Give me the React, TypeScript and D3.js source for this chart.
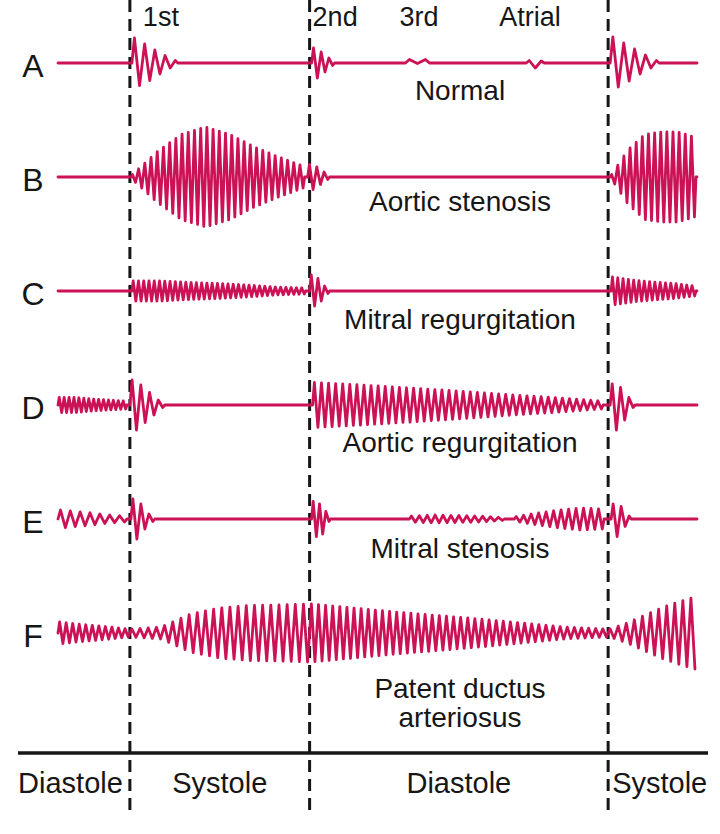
import { useEffect, useRef } from 'react'
import * as d3 from 'd3'

// one "event" is either a short heart sound (signed peaks read one by one)
// or a murmur (envelope keypoints + number of half-cycles)
type Sound = { t0: number; t1: number; peaks: number[] }
type Murmur = { t0: number; t1: number; n: number; env: number[] }
type Event = Sound | Murmur

const rows = ['A', 'B', 'C', 'D', 'E', 'F']
const conditions = [
  ['Normal'],
  ['Aortic stenosis'],
  ['Mitral regurgitation'],
  ['Aortic regurgitation'],
  ['Mitral stenosis'],
  ['Patent ductus', 'arteriosus'],
]

// time in ms across the trace
const timeDomain = [0, 640]
const phaseBounds = [0, 72, 252, 551, 640]
const phaseNames = ['Diastole', 'Systole', 'Diastole', 'Systole']
const soundNames = ['1st', '2nd', '3rd', 'Atrial']
const soundNameTimes = [85, 255, 342, 442]

const rowA: Event[] = [
  { t0: 74, t1: 120, peaks: [0.5, -0.45, 0.38, -0.35, 0.26, -0.22, 0.15, -0.1, 0.05] },
  { t0: 254, t1: 277, peaks: [0.3, -0.3, 0.22, -0.18, 0.1, -0.05] },
  { t0: 348, t1: 372, peaks: [0.07, -0.01, 0.07] },
  { t0: 469, t1: 487, peaks: [0.05, -0.1, 0.04] },
  { t0: 553, t1: 602, peaks: [0.52, -0.48, 0.4, -0.36, 0.28, -0.22, 0.16, -0.1, 0.05] },
]

const rowB: Event[] = [
  { t0: 73, t1: 247, n: 56, env: [0.05, 0.5, 0.85, 1.0, 0.85, 0.6, 0.4, 0.22] },
  { t0: 250, t1: 272, peaks: [0.25, -0.25, 0.2, -0.15, 0.1, -0.05] },
  { t0: 553, t1: 639, n: 28, env: [0.05, 0.55, 0.85, 0.9, 0.9, 0.8] },
]

const rowC: Event[] = [
  { t0: 74, t1: 248, n: 66, env: [0.2, 0.2, 0.17, 0.15, 0.12, 0.08, 0.06] },
  { t0: 252, t1: 272, peaks: [0.32, -0.3, 0.25, -0.2, 0.1, -0.05] },
  { t0: 554, t1: 639, n: 32, env: [0.28, 0.22, 0.18, 0.15, 0.1] },
]

const rowD: Event[] = [
  { t0: 0, t1: 69, n: 28, env: [0.15, 0.15, 0.12, 0.1, 0.08] },
  { t0: 72, t1: 107, peaks: [0.5, -0.5, 0.4, -0.35, 0.25, -0.2, 0.1, -0.05] },
  { t0: 255, t1: 546, n: 82, env: [0.45, 0.4, 0.34, 0.28, 0.21, 0.15, 0.08] },
  { t0: 553, t1: 578, peaks: [0.42, -0.5, 0.35, -0.3, 0.15, -0.05] },
]

const rowE: Event[] = [
  { t0: 0, t1: 69, n: 14, env: [0.18, 0.15, 0.12, 0.08, 0.06] },
  { t0: 73, t1: 97, peaks: [0.4, -0.4, 0.3, -0.2, 0.1, -0.05] },
  { t0: 254, t1: 273, peaks: [0.35, -0.35, 0.3, -0.3, 0.15, -0.05] },
  { t0: 352, t1: 447, n: 24, env: [0.06, 0.08, 0.07, 0.06, 0.03] },
  { t0: 457, t1: 547, n: 24, env: [0.05, 0.12, 0.18, 0.22, 0.2] },
  { t0: 554, t1: 574, peaks: [0.3, -0.35, 0.25, -0.15, 0.06] },
]

const rowF: Event[] = [
  { t0: 0, t1: 72, n: 22, env: [0.22, 0.18, 0.15, 0.12, 0.08] },
  { t0: 72, t1: 252, n: 44, env: [0.08, 0.12, 0.38, 0.5, 0.55, 0.56, 0.58] },
  { t0: 252, t1: 551, n: 84, env: [0.58, 0.5, 0.42, 0.35, 0.28, 0.2, 0.12, 0.08] },
  { t0: 551, t1: 640, n: 22, env: [0.08, 0.2, 0.35, 0.5, 0.62, 0.72] },
]

const traces = [rowA, rowB, rowC, rowD, rowE, rowF]

const W = 720
const H = 834
const traceColor = '#cc1256'
const ink = '#161616'
const font = '"Liberation Sans", Arial, Helvetica, sans-serif'
// label offsets below each trace baseline
const labelOffsets = [37, 34, 38, 47, 39, 65]

// turn one row's events into [t, amplitude] vertices
function tracePoints(events: Event[]): [number, number][] {
  const pts: [number, number][] = []
  const end = timeDomain[1]
  if (events[0].t0 > timeDomain[0]) pts.push([timeDomain[0], 0])
  events.forEach(ev => {
    pts.push([ev.t0, 0])
    let amps: number[]
    if ('peaks' in ev) {
      amps = ev.peaks
    } else {
      const env = d3.scaleLinear<number>()
        .domain(ev.env.map((_, i) => i / (ev.env.length - 1)))
        .range(ev.env)
      amps = d3.range(ev.n).map(k => env(k / (ev.n - 1)) * (k % 2 === 0 ? 1 : -1))
    }
    const step = (ev.t1 - ev.t0) / amps.length
    amps.forEach((a, k) => pts.push([ev.t0 + (k + 0.5) * step, a]))
    if (ev.t1 < end) pts.push([ev.t1, 0])
  })
  const last = events[events.length - 1]
  if (last.t1 < end) pts.push([end, 0])
  return pts
}

const App = () => {
  const svgRef = useRef<SVGSVGElement | null>(null)

  useEffect(() => {
    if (!svgRef.current) return
    const svg = d3.select(svgRef.current)
    svg.selectAll('*').remove()

    const x = d3.scaleLinear().domain(timeDomain).range([58, 697])
    const y = d3.scalePoint<string>().domain(rows).range([63, 633])
    const amp = d3.scaleLinear().domain([0, 1]).range([0, 50])

    svg.append('rect').attr('width', W).attr('height', H).attr('fill', '#fff')

    // phase boundaries
    svg.append('g')
      .selectAll('line')
      .data(phaseBounds.slice(1, -1))
      .enter()
      .append('line')
      .attr('x1', d => x(d))
      .attr('x2', d => x(d))
      .attr('y1', 0)
      .attr('y2', 810)
      .attr('stroke', ink)
      .attr('stroke-width', 3)
      .attr('stroke-dasharray', '12,7')

    // bottom axis line
    const axisY = 753
    svg.append('line')
      .attr('x1', 18)
      .attr('x2', 708)
      .attr('y1', axisY)
      .attr('y2', axisY)
      .attr('stroke', ink)
      .attr('stroke-width', 3.5)

    // phase names
    svg.append('g')
      .selectAll('text')
      .data(phaseNames)
      .enter()
      .append('text')
      .attr('x', (_, i) => {
        if (i === 0) return x(phaseBounds[1]) - 7
        if (i === phaseNames.length - 1) return x(phaseBounds[i]) + 4
        return (x(phaseBounds[i]) + x(phaseBounds[i + 1])) / 2
      })
      .attr('y', 793)
      .attr('text-anchor', (_, i) => i === 0 ? 'end' : i === phaseNames.length - 1 ? 'start' : 'middle')
      .attr('font-family', font)
      .attr('font-size', 29)
      .attr('fill', ink)
      .text(d => d)

    // sound names along the top
    svg.append('g')
      .selectAll('text')
      .data(soundNames)
      .enter()
      .append('text')
      .attr('x', (_, i) => x(soundNameTimes[i]))
      .attr('y', 26)
      .attr('font-family', font)
      .attr('font-size', 27)
      .attr('fill', ink)
      .text(d => d)

    const line = d3.line<[number, number]>()
      .x(d => x(d[0]))
      .y(d => d[1])
      .curve(d3.curveLinear)

    rows.forEach((r, i) => {
      const base = y(r) as number
      const g = svg.append('g')

      g.append('text')
        .attr('x', 33)
        .attr('y', base + 3)
        .attr('text-anchor', 'middle')
        .attr('dominant-baseline', 'central')
        .attr('font-family', font)
        .attr('font-size', 32)
        .attr('fill', ink)
        .text(r)

      const pts = tracePoints(traces[i]).map(([t, a]) => [t, base - amp(a)] as [number, number])
      g.append('path')
        .datum(pts)
        .attr('fill', 'none')
        .attr('stroke', traceColor)
        .attr('stroke-width', 2.8)
        .attr('stroke-linejoin', 'round')
        .attr('stroke-linecap', 'round')
        .attr('d', line)

      conditions[i].forEach((txt, j) => {
        g.append('text')
          .attr('x', 460)
          .attr('y', base + labelOffsets[i] + j * 29)
          .attr('text-anchor', 'middle')
          .attr('font-family', font)
          .attr('font-size', 28)
          .attr('fill', ink)
          .text(txt)
      })
    })
  }, [])

  return (
    <svg
      ref={svgRef}
      width={W}
      height={H}
      style={{ position: 'absolute', left: 0, top: 0, background: '#fff' }}
    />
  )
}

export default App
